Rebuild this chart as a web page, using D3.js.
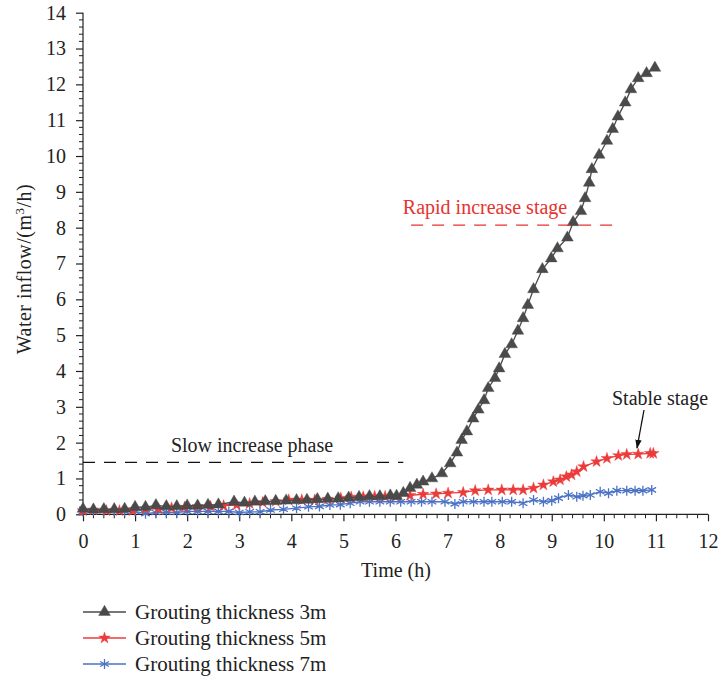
<!DOCTYPE html>
<html>
<head>
<meta charset="utf-8">
<script src="https://cdn.jsdelivr.net/npm/d3@7"></script>
<style>
  body { margin: 0; background: #fff; }
  svg text { font-family: "Liberation Serif", "DejaVu Serif", serif; }
</style>
</head>
<body>
<div id="chart"></div>
<script>
// Grouting thickness 3m
var t3 = [0, 0.2, 0.4, 0.6, 0.8, 1.0, 1.2, 1.4, 1.6, 1.8, 2.0, 2.2, 2.4, 2.6, 2.9, 3.1, 3.3, 3.5, 3.7, 3.9,
          4.1, 4.3, 4.5, 4.7, 4.9, 5.1, 5.3, 5.5, 5.7, 5.9, 6.02, 6.15, 6.28, 6.41, 6.53, 6.7, 6.89, 7.05, 7.18, 7.27,
          7.37, 7.49, 7.59, 7.7, 7.78, 7.91, 7.99, 8.1, 8.23, 8.35, 8.45, 8.54, 8.65, 8.82, 8.99, 9.11, 9.3, 9.41,
          9.56, 9.64, 9.72, 9.77, 9.91, 10.06, 10.17, 10.27, 10.41, 10.52, 10.66, 10.82, 10.98];
var v3 = [0.15, 0.13, 0.14, 0.14, 0.15, 0.2, 0.2, 0.25, 0.22, 0.22, 0.24, 0.24, 0.26, 0.27, 0.35, 0.32, 0.35, 0.36, 0.37, 0.38,
          0.39, 0.4, 0.42, 0.43, 0.44, 0.46, 0.48, 0.5, 0.5, 0.52, 0.51, 0.59, 0.73, 0.82, 0.91, 1.0, 1.14, 1.42, 1.72, 2.07,
          2.31, 2.67, 2.92, 3.18, 3.52, 3.8, 4.07, 4.47, 4.74, 5.12, 5.47, 5.84, 6.28, 6.84, 7.14, 7.42, 7.72, 8.15,
          8.46, 8.82, 9.25, 9.63, 10.03, 10.42, 10.75, 11.1, 11.49, 11.86, 12.17, 12.31, 12.46];

// Grouting thickness 5m
var t5 = [0, 0.2, 0.45, 0.7, 0.95, 1.2, 1.45, 1.7, 1.95, 2.2, 2.45, 2.7, 2.95, 3.2, 3.45, 3.7, 3.95, 4.2, 4.45, 4.7,
          4.95, 5.15, 5.38, 5.6, 5.8, 6.02, 6.28, 6.53, 6.78, 7.01, 7.3, 7.53, 7.78, 8.04, 8.26, 8.45, 8.65, 8.84, 9.03,
          9.16, 9.28, 9.38, 9.48, 9.61, 9.86, 10.06, 10.28, 10.44, 10.66, 10.89, 10.95];
var v5 = [0.1, 0.12, 0.1, 0.1, 0.1, 0.15, 0.15, 0.18, 0.2, 0.22, 0.22, 0.24, 0.26, 0.3, 0.33, 0.36, 0.4, 0.4, 0.4, 0.42,
          0.45, 0.48, 0.49, 0.5, 0.5, 0.51, 0.53, 0.56, 0.57, 0.59, 0.61, 0.66, 0.68, 0.68, 0.68, 0.68, 0.73, 0.82, 0.91,
          0.96, 1.05, 1.1, 1.19, 1.33, 1.47, 1.56, 1.64, 1.67, 1.68, 1.7, 1.7];

// Grouting thickness 7m
var t7 = [0, 0.2, 0.4, 0.6, 0.8, 1.0, 1.2, 1.4, 1.6, 1.8, 2.0, 2.2, 2.4, 2.6, 2.8, 3.0, 3.2, 3.4, 3.6, 3.85,
          4.1, 4.33, 4.54, 4.74, 4.94, 5.13, 5.32, 5.5, 5.7, 5.9, 6.1, 6.3, 6.5, 6.7, 6.95, 7.14, 7.3, 7.5, 7.7,
          7.85, 8.05, 8.23, 8.45, 8.65, 8.84, 9.0, 9.13, 9.32, 9.48, 9.6, 9.74, 9.93, 10.09, 10.25, 10.44, 10.6, 10.75, 10.92];
var v7 = [0.08, 0.1, 0.1, 0.1, 0.08, 0.08, 0.02, 0.05, 0.06, 0.05, 0.08, 0.08, 0.08, 0.08, 0.08, 0.05, 0.07, 0.07, 0.12, 0.14,
          0.17, 0.21, 0.22, 0.26, 0.27, 0.31, 0.35, 0.35, 0.35, 0.35, 0.35, 0.35, 0.35, 0.35, 0.35, 0.29, 0.35, 0.35, 0.35,
          0.35, 0.35, 0.35, 0.31, 0.4, 0.35, 0.38, 0.45, 0.54, 0.49, 0.52, 0.54, 0.63, 0.59, 0.66, 0.66, 0.66, 0.66, 0.68];

var seriesNames = ["Grouting thickness 3m", "Grouting thickness 5m", "Grouting thickness 7m"];
var seriesColors = ["#4a4a4a", "#ec3b3b", "#4b72c5"];
var xTicks = d3.range(0, 13, 1);
var yTicks = d3.range(0, 15, 1);

var W = 718, H = 678;
var x = d3.scaleLinear().domain([0, 12]).range([83, 708]);
var y = d3.scaleLinear().domain([0, 14]).range([514.3, 12.7]);

var svg = d3.select("#chart").append("svg")
    .attr("width", W)
    .attr("height", H)
    .attr("font-family", "Liberation Serif, serif");

// axes
var xAxis = d3.axisBottom(x).tickValues(xTicks).tickSize(7).tickFormat(d3.format("d"));
var yAxis = d3.axisLeft(y).tickValues(yTicks).tickSize(7).tickFormat(d3.format("d"));

var gx = svg.append("g").attr("transform", "translate(0," + y(0) + ")").call(xAxis);
gx.append("g").selectAll("line")
    .data(d3.range(0, 12.01, 0.2).filter(function (d) { return Math.abs(d - Math.round(d)) > 0.01; }))
  .enter().append("line")
    .attr("x1", function (d) { return x(d); })
    .attr("x2", function (d) { return x(d); })
    .attr("y1", 0).attr("y2", 4)
    .attr("stroke", "#222");

var gy = svg.append("g").attr("transform", "translate(" + x(0) + ",0)").call(yAxis);
gy.append("g").selectAll("line")
    .data(d3.range(0, 14.01, 0.2).filter(function (d) { return Math.abs(d - Math.round(d)) > 0.01; }))
  .enter().append("line")
    .attr("y1", function (d) { return y(d); })
    .attr("y2", function (d) { return y(d); })
    .attr("x1", 0).attr("x2", -4)
    .attr("stroke", "#222");

[gx, gy].forEach(function (g) {
  g.attr("font-family", null);
  g.select(".domain").attr("stroke", "#222").attr("stroke-width", 1.2);
  g.selectAll(".tick line").attr("stroke", "#222").attr("stroke-width", 1.2);
  g.selectAll(".tick text")
    .attr("fill", "#222")
    .style("font-size", "20px");
});
gx.select(".domain").attr("d", "M" + x(0) + ",0H" + x(12));
gy.select(".domain").attr("d", "M0," + y(0) + "V" + y(14));
gx.selectAll(".tick text").attr("y", 20).attr("dy", "0.71em");
gy.selectAll(".tick text").attr("x", -17).attr("dy", "0.32em");

// axis labels
svg.append("text")
    .attr("x", 396).attr("y", 577)
    .attr("text-anchor", "middle")
    .style("font-size", "20px").attr("fill", "#222")
    .text("Time (h)");

var yl = svg.append("text")
    .attr("transform", "translate(31,269) rotate(-90)")
    .attr("text-anchor", "middle")
    .style("font-size", "20px").attr("fill", "#222")
    .style("letter-spacing", "0.5px");
yl.append("tspan").text("Water inflow/(m");
yl.append("tspan").attr("dy", -7).style("font-size", "13px").text("3");
yl.append("tspan").attr("dy", 7).text("/h)");

// series
var seriesData = [
  d3.zip(t3, v3),
  d3.zip(t5, v5),
  d3.zip(t7, v7)
];
var symbols = [d3.symbolTriangle, d3.symbolStar, d3.symbolAsterisk];
var sizes = [60, 42, 70];

var line = d3.line()
    .x(function (d) { return x(d[0]); })
    .y(function (d) { return y(d[1]); });

function markerFill(i) { return symbols[i] === d3.symbolAsterisk ? "none" : seriesColors[i]; }
function markerStroke(i) { return symbols[i] === d3.symbolAsterisk ? 1.3 : 0.4; }

// draw order: 7m first, then 5m, then 3m on top
[2, 1, 0].forEach(function (i) {
  var g = svg.append("g");
  g.append("path")
      .datum(seriesData[i])
      .attr("d", line)
      .attr("fill", "none")
      .attr("stroke", seriesColors[i])
      .attr("stroke-width", 1.3);
  g.selectAll("path.pt")
      .data(seriesData[i])
    .enter().append("path")
      .attr("class", "pt")
      .attr("transform", function (d) { return "translate(" + x(d[0]) + "," + y(d[1]) + ")"; })
      .attr("d", d3.symbol().type(symbols[i]).size(sizes[i]))
      .attr("fill", markerFill(i))
      .attr("stroke", seriesColors[i])
      .attr("stroke-width", markerStroke(i));
});

// annotations
svg.append("line")
    .attr("x1", x(0)).attr("x2", x(6.15))
    .attr("y1", y(1.45)).attr("y2", y(1.45))
    .attr("stroke", "#111").attr("stroke-width", 1.4)
    .attr("stroke-dasharray", "12,9");
svg.append("text")
    .attr("x", 252).attr("y", 452)
    .attr("text-anchor", "middle")
    .style("font-size", "20px").attr("fill", "#222")
    .text("Slow increase phase");

svg.append("line")
    .attr("x1", x(6.3)).attr("x2", x(10.3))
    .attr("y1", y(8.07)).attr("y2", y(8.07))
    .attr("stroke", "#e8322f").attr("stroke-width", 1.4)
    .attr("stroke-dasharray", "12,9");
svg.append("text")
    .attr("x", 485).attr("y", 214)
    .attr("text-anchor", "middle")
    .style("font-size", "20px").attr("fill", "#e8322f")
    .text("Rapid increase stage");

svg.append("text")
    .attr("x", 660).attr("y", 405)
    .attr("text-anchor", "middle")
    .style("font-size", "20px").attr("fill", "#222")
    .text("Stable stage");

svg.append("defs").append("marker")
    .attr("id", "arrow")
    .attr("viewBox", "0 0 10 10")
    .attr("refX", 9).attr("refY", 5)
    .attr("markerWidth", 7).attr("markerHeight", 7)
    .attr("orient", "auto")
  .append("path")
    .attr("d", "M0,1.5L10,5L0,8.5Z")
    .attr("fill", "#111");
svg.append("line")
    .attr("x1", 644).attr("y1", 410)
    .attr("x2", 637).attr("y2", 448)
    .attr("stroke", "#111").attr("stroke-width", 1.3)
    .attr("marker-end", "url(#arrow)");

// legend
var legend = svg.selectAll(".legend")
    .data(seriesNames)
  .enter().append("g")
    .attr("class", "legend")
    .attr("transform", function (d, i) { return "translate(83," + (612 + i * 26) + ")"; });

legend.append("line")
    .attr("x1", 0).attr("x2", 43)
    .attr("stroke", function (d, i) { return seriesColors[i]; })
    .attr("stroke-width", 1.3);
legend.append("path")
    .attr("transform", "translate(21.5,0)")
    .attr("d", function (d, i) { return d3.symbol().type(symbols[i]).size(sizes[i])(); })
    .attr("fill", function (d, i) { return markerFill(i); })
    .attr("stroke", function (d, i) { return seriesColors[i]; })
    .attr("stroke-width", function (d, i) { return markerStroke(i); });
legend.append("text")
    .attr("x", 52).attr("y", 0)
    .attr("dy", "0.35em")
    .style("font-size", "21px").attr("fill", "#222")
    .text(function (d) { return d; });
</script>
</body>
</html>
